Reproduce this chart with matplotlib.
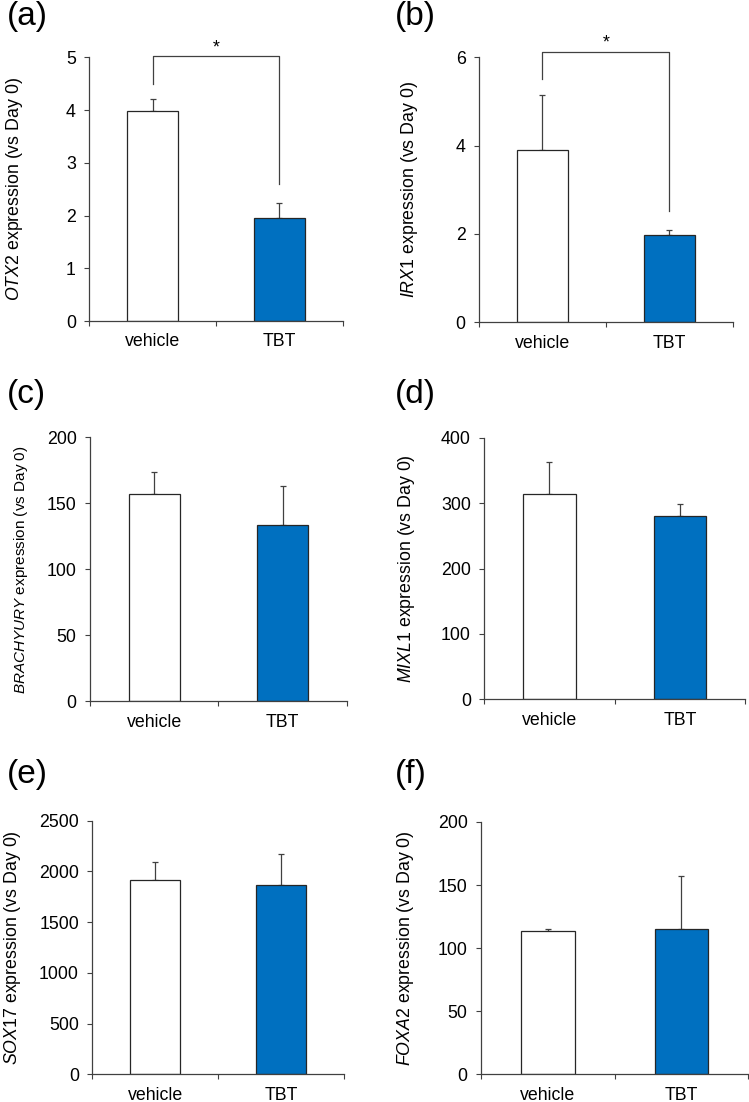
import matplotlib
matplotlib.use("Agg")
import matplotlib.pyplot as plt

plt.rcParams['font.family'] = ['Liberation Sans', 'DejaVu Sans']
plt.rcParams['mathtext.fontset'] = 'custom'
plt.rcParams['mathtext.rm'] = 'Liberation Sans'
plt.rcParams['mathtext.it'] = 'Liberation Sans:italic'

# ---------------- data ----------------
categories = ['vehicle', 'TBT']

otx2_mean = [3.99, 1.95]
otx2_err = [0.21, 0.28]
irx1_mean = [3.91, 1.97]
irx1_err = [1.23, 0.11]
brachyury_mean = [156.8, 133.3]
brachyury_err = [16.7, 30.0]
mixl1_mean = [314.4, 280.3]
mixl1_err = [48.4, 18.3]
sox17_mean = [1915, 1863]
sox17_err = [181, 312]
foxa2_mean = [113.4, 115.4]
foxa2_err = [1.8, 41.6]

otx2_ticks = [0, 1, 2, 3, 4, 5]
irx1_ticks = [0, 2, 4, 6]
brachyury_ticks = [0, 50, 100, 150, 200]
mixl1_ticks = [0, 100, 200, 300, 400]
sox17_ticks = [0, 500, 1000, 1500, 2000, 2500]
foxa2_ticks = [0, 50, 100, 150, 200]

genes = ['OTX2', 'IRX1', 'BRACHYURY', 'MIXL1', 'SOX17', 'FOXA2']
panel_labels = ['(a)', '(b)', '(c)', '(d)', '(e)', '(f)']

# significance brackets: (left leg bottom, top, right leg bottom, star baseline)
otx2_bracket = [4.5, 5.02, 2.6, 5.10]
irx1_bracket = [5.5, 6.12, 2.53, 6.22]

# ---------------- layout ----------------
W, H = 749, 1102
fig = plt.figure(figsize=(W / 100, H / 100), dpi=100)

# axes boxes in pixels: x0, x1, ytop, ybottom
boxes = [
    (89.3, 342.7, 57.3, 321.0),
    (479.0, 732.7, 57.3, 322.3),
    (90.0, 346.7, 437.3, 701.3),
    (484.3, 745.0, 437.7, 699.3),
    (92.3, 344.0, 820.7, 1074.3),
    (481.0, 748.3, 822.0, 1074.3),
]
label_x = [-0.297, -0.272, -0.269, -0.297, -0.319, -0.284]
label_sizes = [12.8, 12.8, 11.0, 12.8, 12.8, 12.8]
panel_pos = [(7, 17), (395, 17), (7, 395), (395, 395), (7, 775), (395, 775)]

means = [otx2_mean, irx1_mean, brachyury_mean, mixl1_mean, sox17_mean, foxa2_mean]
errs = [otx2_err, irx1_err, brachyury_err, mixl1_err, sox17_err, foxa2_err]
ticks = [otx2_ticks, irx1_ticks, brachyury_ticks, mixl1_ticks, sox17_ticks, foxa2_ticks]
brackets = [otx2_bracket, irx1_bracket, None, None, None, None]

line_col = '#404040'
edge_col = '#262626'
blue = '#0070C0'
fs = 12.8

for i in range(6):
    x0, x1, yt, yb = boxes[i]
    ax = fig.add_axes([x0 / W, 1 - yb / H, (x1 - x0) / W, (yb - yt) / H])
    xs = list(range(len(categories)))
    ax.bar(xs, means[i], width=0.4, color=['white', blue], edgecolor=edge_col,
           linewidth=0.9, zorder=2)
    ax.errorbar(xs, means[i], yerr=[[0, 0], errs[i]], fmt='none', ecolor=line_col,
                elinewidth=0.9, capsize=2.5, capthick=0.9, zorder=1)
    ax.set_xlim(-0.5, 1.5)
    ax.set_ylim(0, ticks[i][-1])
    ax.set_yticks(ticks[i])
    ax.set_xticks([-0.5, 0.5, 1.5])
    ax.set_xticklabels([])
    ax.set_xticks(xs, minor=True)
    ax.set_xticklabels(categories, minor=True, fontsize=fs)
    ax.tick_params(axis='x', which='minor', length=0, pad=9)
    ax.tick_params(axis='x', which='major', length=3.6, width=0.8, color=line_col,
                   direction='out')
    ax.tick_params(axis='y', length=3.6, width=0.8, color=line_col, direction='out',
                   labelsize=fs, pad=6)
    for s in ['top', 'right']:
        ax.spines[s].set_visible(False)
    for s in ['left', 'bottom']:
        ax.spines[s].set_color(line_col)
        ax.spines[s].set_linewidth(0.9)
    ax.set_ylabel(r'$\mathit{' + genes[i] + r'}$ expression (vs Day 0)',
                  fontsize=label_sizes[i])
    ax.yaxis.label.set_va('center')
    ax.yaxis.set_label_coords(label_x[i], 0.5)

    b = brackets[i]
    if b is not None:
        ax.plot([xs[0], xs[0], xs[1], xs[1]], [b[0], b[1], b[1], b[2]],
                color=line_col, lw=0.9, clip_on=False)
        ax.text((xs[0] + xs[1]) / 2, b[3], '*', ha='center', va='baseline',
                fontsize=fs, clip_on=False)

    px, py = panel_pos[i]
    fig.text(px / W, 1 - py / H, panel_labels[i], fontsize=24, ha='left',
             va='center')

fig.savefig('out.png', dpi=100)
